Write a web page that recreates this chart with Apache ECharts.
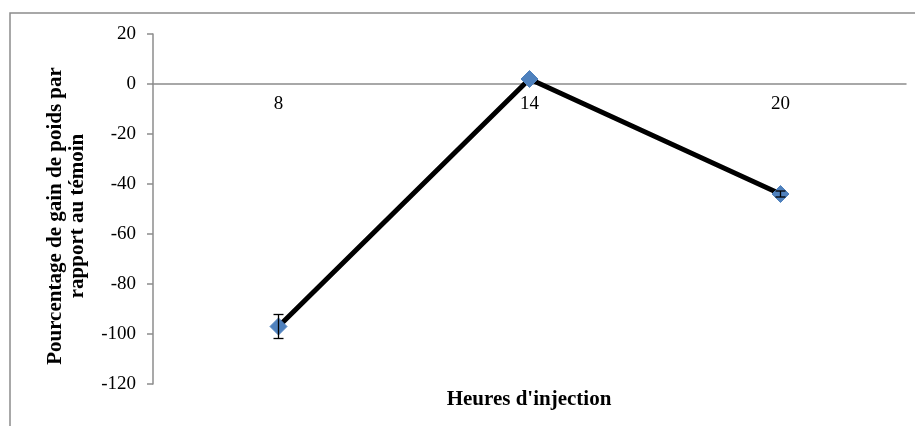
<!DOCTYPE html>
<html><head><meta charset="utf-8">
<script src="https://cdn.jsdelivr.net/npm/echarts@6/dist/echarts.min.js"></script>
<style>html,body{margin:0;padding:0;background:#fff}#c{width:915px;height:426px}</style>
</head><body><div id="c"></div>
<script>
const categories = ['8', '14', '20'];
const values = [-97, 2, -44];
const errors = [4.8, 0, 1.2];
const yTicks = [-120, -100, -80, -60, -40, -20, 0, 20];

const chart = echarts.init(document.getElementById('c'));
const font = '"Liberation Serif", "Times New Roman", serif';
chart.setOption({
  animation: false,
  grid: {left: 153, top: 34, right: 9, bottom: 42},
  graphic: [
    {type: 'rect', shape: {x: 10, y: 13, width: 1200, height: 1000}, style: {fill: 'none', stroke: '#8c8c8c', lineWidth: 1.5}, silent: true},
    {type: 'text', x: 529, y: 400, style: {text: "Heures d'injection", font: 'bold 21px ' + font, fill: '#000', textAlign: 'center', textVerticalAlign: 'middle'}}
  ],
  xAxis: {
    type: 'category', data: categories, boundaryGap: true,
    position: 'bottom', offset: -300,
    axisLine: {onZero: false, lineStyle: {color: '#8c8c8c', width: 1.5}},
    axisTick: {show: false},
    axisLabel: {color: '#000', fontFamily: font, fontSize: 19, margin: 11}
  },
  yAxis: {
    type: 'value', min: yTicks[0], max: yTicks[yTicks.length - 1], interval: 20,
    splitLine: {show: false},
    axisLine: {show: true, lineStyle: {color: '#8c8c8c', width: 1.5}},
    axisTick: {show: true, length: 6, lineStyle: {color: '#8c8c8c', width: 1.5}},
    axisLabel: {color: '#000', fontFamily: font, fontSize: 19, margin: 17},
    name: 'Pourcentage de gain de poids par\nrapport au témoin',
    nameLocation: 'middle', nameGap: 64, nameRotate: 90,
    nameTextStyle: {color: '#000', fontFamily: font, fontSize: 21, fontWeight: 'bold', lineHeight: 22, padding: [0, 14, 0, 0]}
  },
  series: [
    {
      type: 'line', data: values, symbol: 'diamond', symbolSize: 17,
      lineStyle: {color: '#000', width: 5},
      itemStyle: {color: '#4f81bd', borderColor: '#4f81bd'},
      z: 3
    },
    {
      type: 'custom', z: 4,
      data: values.map((v, i) => [i, v - errors[i], v + errors[i]]),
      renderItem: function (params, api) {
        const lo = api.coord([api.value(0), api.value(1)]);
        const hi = api.coord([api.value(0), api.value(2)]);
        if (Math.abs(hi[1] - lo[1]) < 1) return null;
        const w = 5;
        const st = {stroke: '#000', lineWidth: 1.3};
        return {type: 'group', children: [
          {type: 'line', shape: {x1: lo[0], y1: lo[1], x2: hi[0], y2: hi[1]}, style: st},
          {type: 'line', shape: {x1: lo[0] - w, y1: lo[1], x2: lo[0] + w, y2: lo[1]}, style: st},
          {type: 'line', shape: {x1: hi[0] - w, y1: hi[1], x2: hi[0] + w, y2: hi[1]}, style: st}
        ]};
      }
    }
  ]
});
</script></body></html>
